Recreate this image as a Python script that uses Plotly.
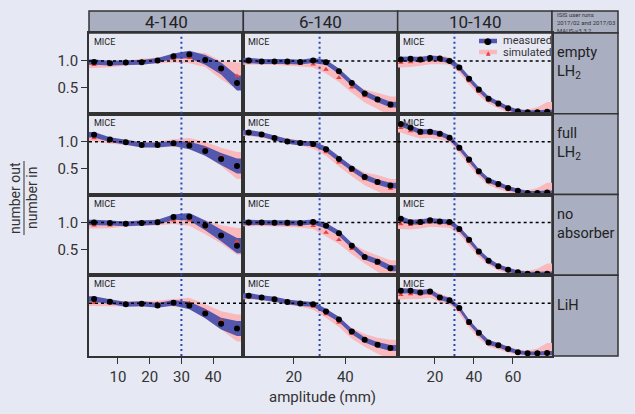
import plotly.graph_objects as go
from plotly.subplots import make_subplots

# ---------------- data ----------------
col_labels = ["4-140", "6-140", "10-140"]
row_labels = ["empty<br>LH<sub>2</sub>", "full<br>LH<sub>2</sub>", "no<br>absorber", "LiH"]

amp_4 = [2.5, 7.5, 12.5, 17.5, 22.5, 27.5, 32.5, 37.5, 42.5, 47.5]
amp_6 = [2.5, 7.5, 12.5, 17.5, 22.5, 27.5, 32.5, 37.5, 42.5, 47.5, 52.5, 57.5]
amp_10 = [2.5, 7.5, 12.5, 17.5, 22.5, 27.5, 32.5, 37.5, 42.5, 47.5, 52.5, 57.5, 62.5, 67.5, 72.5, 77.5]

# 4-140
meas_4_empty = [0.98, 0.96, 0.97, 0.975, 1.01, 1.09, 1.12, 1.02, 0.86, 0.59]
sim_4_empty = [0.93, 0.94, 0.96, 0.99, 1.01, 1.04, 1.06, 1.02, 0.83, 0.72]
meas_4_full = [1.13, 1.04, 0.99, 0.94, 0.94, 0.97, 0.93, 0.83, 0.68, 0.55]
sim_4_full = [1.07, 1.02, 0.99, 0.95, 0.95, 0.975, 0.97, 0.87, 0.72, 0.56]
meas_4_none = [1.0, 0.99, 0.975, 0.99, 1.005, 1.10, 1.105, 0.945, 0.76, 0.57]
sim_4_none = [0.95, 0.95, 0.975, 0.99, 1.0, 1.04, 1.04, 0.91, 0.78, 0.65]
meas_4_lih = [1.08, 1.03, 0.98, 0.99, 0.96, 1.01, 0.96, 0.81, 0.62, 0.53]
sim_4_lih = [1.01, 1.0, 0.99, 0.99, 0.99, 1.01, 1.0, 0.85, 0.68, 0.54]
meas_err_4 = [0.05, 0.045, 0.045, 0.045, 0.045, 0.05, 0.07, 0.09, 0.11, 0.14]
sim_err_4 = [0.06, 0.055, 0.05, 0.05, 0.055, 0.07, 0.10, 0.13, 0.17, 0.25]

# 6-140
meas_6_empty = [1.01, 0.99, 0.99, 0.99, 0.98, 1.01, 0.975, 0.81, 0.59, 0.395, 0.285, 0.19]
sim_6_empty = [0.975, 0.975, 0.97, 0.96, 0.95, 0.94, 0.84, 0.69, 0.51, 0.35, 0.26, 0.16]
meas_6_full = [1.17, 1.136, 1.07, 1.006, 0.975, 0.96, 0.86, 0.68, 0.50, 0.345, 0.25, 0.185]
sim_6_full = [1.15, 1.12, 1.07, 1.01, 0.98, 0.93, 0.81, 0.62, 0.46, 0.31, 0.23, 0.13]
meas_6_none = [1.0, 1.0, 0.995, 0.995, 0.99, 1.01, 0.94, 0.80, 0.57, 0.36, 0.27, 0.15]
sim_6_none = [0.975, 0.975, 0.97, 0.965, 0.955, 0.94, 0.815, 0.68, 0.51, 0.36, 0.235, 0.12]
meas_6_lih = [1.14, 1.105, 1.074, 1.025, 0.995, 0.98, 0.846, 0.70, 0.475, 0.32, 0.23, 0.17]
sim_6_lih = [1.12, 1.10, 1.07, 1.02, 0.99, 0.94, 0.80, 0.64, 0.44, 0.31, 0.21, 0.14]
meas_err_6 = [0.05, 0.045, 0.045, 0.045, 0.045, 0.045, 0.05, 0.05, 0.05, 0.05, 0.05, 0.055]
sim_err_6 = [0.045, 0.045, 0.045, 0.05, 0.05, 0.06, 0.07, 0.08, 0.10, 0.12, 0.15, 0.18]

# 10-140
meas_10_empty = [1.03, 1.04, 1.03, 1.055, 1.045, 1.0, 0.88, 0.67, 0.47, 0.30, 0.21, 0.12, 0.065, 0.05, 0.05, 0.055]
sim_10_empty = [0.97, 0.98, 1.0, 1.02, 1.02, 1.0, 0.85, 0.63, 0.43, 0.27, 0.18, 0.10, 0.06, 0.05, 0.05, 0.06]
meas_10_full = [1.33, 1.26, 1.185, 1.185, 1.15, 1.075, 0.89, 0.67, 0.45, 0.28, 0.215, 0.14, 0.09, 0.05, 0.05, 0.055]
sim_10_full = [1.26, 1.20, 1.15, 1.15, 1.12, 1.06, 0.86, 0.63, 0.42, 0.25, 0.18, 0.12, 0.08, 0.05, 0.05, 0.06]
meas_10_none = [1.07, 1.005, 1.01, 1.04, 1.02, 1.01, 0.88, 0.68, 0.46, 0.29, 0.185, 0.12, 0.075, 0.05, 0.05, 0.05]
sim_10_none = [0.97, 0.96, 0.98, 1.0, 0.99, 0.97, 0.85, 0.64, 0.43, 0.27, 0.17, 0.11, 0.07, 0.05, 0.05, 0.06]
meas_10_lih = [1.23, 1.23, 1.20, 1.22, 1.105, 1.055, 0.91, 0.65, 0.45, 0.27, 0.22, 0.15, 0.09, 0.07, 0.07, 0.075]
sim_10_lih = [1.16, 1.17, 1.17, 1.18, 1.10, 1.04, 0.88, 0.62, 0.42, 0.25, 0.20, 0.14, 0.09, 0.07, 0.07, 0.08]
meas_err_10 = [0.05, 0.045, 0.045, 0.045, 0.045, 0.045, 0.045, 0.045, 0.045, 0.045, 0.04, 0.04, 0.035, 0.035, 0.035, 0.04]
sim_err_10 = [0.09, 0.09, 0.09, 0.08, 0.08, 0.07, 0.07, 0.07, 0.07, 0.06, 0.06, 0.06, 0.05, 0.05, 0.09, 0.18]

x_ranges = [[0.9, 49.5], [0.4, 60.3], [0.9, 80.0]]
x_edges = [[0, 50], [0, 60], [0, 80]]
x_ticks = [[10, 20, 30, 40], [20, 40], [20, 40, 60]]
y_range = [0.02, 1.52]
y_ticks = [0.5, 1.0]
y_ticktext = ["0.5", "1.0"]
ref_amp = 30
corner_text = "ISIS user runs<br>2017/02 and 2017/03<br>MAUS-v3.3.2"

amps = [amp_4, amp_6, amp_10]
meas = [
    [meas_4_empty, meas_6_empty, meas_10_empty],
    [meas_4_full, meas_6_full, meas_10_full],
    [meas_4_none, meas_6_none, meas_10_none],
    [meas_4_lih, meas_6_lih, meas_10_lih],
]
sims = [
    [sim_4_empty, sim_6_empty, sim_10_empty],
    [sim_4_full, sim_6_full, sim_10_full],
    [sim_4_none, sim_6_none, sim_10_none],
    [sim_4_lih, sim_6_lih, sim_10_lih],
]
meas_errs = [meas_err_4, meas_err_6, meas_err_10]
sim_errs = [sim_err_4, sim_err_6, sim_err_10]

# ---------------- style ----------------
BG = "#e6e8f4"
GRAY = "#a9aec1"
FRAME = "#333333"
BLUE = "#5357ad"
PINK = "#f9b9bd"
RED = "#e5403f"
FONT = "Roboto"

W, H = 635, 414
L, R, T, B = 89, 83, 33, 58
PW = W - L - R
PH = H - T - B


def px_x(p):
    return (p - L) / PW


def px_y(p):
    return (H - B - p) / PH


fig = make_subplots(rows=4, cols=3, horizontal_spacing=0, vertical_spacing=0)


def band(xs, vals, errs, edges):
    bx = [edges[0]] + list(xs) + [edges[1]]
    up = [vals[0] + errs[0]] + [v + e for v, e in zip(vals, errs)] + [vals[-1] + errs[-1]]
    lo = [vals[0] - errs[0]] + [v - e for v, e in zip(vals, errs)] + [vals[-1] - errs[-1]]
    return bx + bx[::-1], up + lo[::-1]


for r in range(4):
    for c in range(3):
        xs = amps[c]
        sx, sy = band(xs, sims[r][c], sim_errs[c], x_edges[c])
        fig.add_trace(go.Scatter(x=sx, y=sy, fill="toself", fillcolor=PINK, mode="none",
                                 hoverinfo="skip", showlegend=False), row=r + 1, col=c + 1)
        mx, my = band(xs, meas[r][c], meas_errs[c], x_edges[c])
        fig.add_trace(go.Scatter(x=mx, y=my, fill="toself", fillcolor=BLUE, mode="none",
                                 hoverinfo="skip", showlegend=False), row=r + 1, col=c + 1)
        fig.add_trace(go.Scatter(x=xs, y=sims[r][c], mode="markers",
                                 marker=dict(symbol="triangle-up", size=5, color=RED),
                                 showlegend=False), row=r + 1, col=c + 1)
        fig.add_trace(go.Scatter(x=xs, y=meas[r][c], mode="markers",
                                 marker=dict(symbol="circle", size=6, color="black"),
                                 showlegend=False), row=r + 1, col=c + 1)

        idx = r * 3 + c + 1
        sfx = "" if idx == 1 else str(idx)
        xref = "x" + sfx
        yref = "y" + sfx
        fig.add_shape(type="line", xref=xref + " domain", yref=yref, x0=0, x1=1, y0=1.0, y1=1.0,
                      line=dict(color="black", width=1.6, dash="3px,3px"), layer="above")
        fig.add_shape(type="line", xref=xref, yref=yref + " domain", x0=ref_amp, x1=ref_amp, y0=0, y1=1,
                      line=dict(color="#2a46b0", width=2, dash="2px,3px"), layer="above")
        fig.add_annotation(xref=xref + " domain", yref=yref + " domain", x=0.02, y=0.975,
                           text="MICE", showarrow=False, xanchor="left", yanchor="top",
                           font=dict(family=FONT, size=9, color="#222222"))

        fig.update_xaxes(row=r + 1, col=c + 1, range=x_ranges[c], showgrid=False, zeroline=False,
                         showline=True, mirror=True, linecolor=FRAME, linewidth=1.5,
                         showticklabels=(r == 3),
                         tickvals=x_ticks[c],
                         ticks="outside" if r == 3 else "", ticklen=6, tickcolor=FRAME,
                         tickfont=dict(family=FONT, size=15, color="#333333"))
        show_y = (c == 0 and r < 3)
        fig.update_yaxes(row=r + 1, col=c + 1, range=y_range, showgrid=False, zeroline=False,
                         showline=True, mirror=True, linecolor=FRAME, linewidth=1.5,
                         showticklabels=show_y,
                         tickvals=y_ticks, ticktext=y_ticktext,
                         ticks="outside" if show_y else "", ticklen=6, tickcolor=FRAME,
                         tickfont=dict(family=FONT, size=15, color="#333333"))

# header cells
hdr_top = px_y(11)
hdr_mid = (1 + hdr_top) / 2
for c in range(3):
    dom = fig.layout["xaxis" + ("" if c == 0 else str(c + 1))].domain
    fig.add_shape(type="rect", xref="paper", yref="paper", x0=dom[0], x1=dom[1], y0=1, y1=hdr_top,
                  fillcolor=GRAY, line=dict(color=FRAME, width=1.5), layer="below")
    fig.add_annotation(xref="paper", yref="paper", x=(dom[0] + dom[1]) / 2, y=hdr_mid,
                       text=col_labels[c], showarrow=False, xanchor="center", yanchor="middle",
                       font=dict(family=FONT, size=17, color="#222222"))

right_x1 = px_x(618)
fig.add_shape(type="rect", xref="paper", yref="paper", x0=1, x1=right_x1, y0=1, y1=hdr_top,
              fillcolor=GRAY, line=dict(color=FRAME, width=1.5), layer="below")
fig.add_annotation(xref="paper", yref="paper", x=px_x(555), y=hdr_mid,
                   text=corner_text, showarrow=False, xanchor="left", yanchor="middle", align="left",
                   font=dict(family=FONT, size=6, color="#333333"))

for r in range(4):
    dom = fig.layout["yaxis" + ("" if r == 0 else str(r * 3 + 1))].domain
    fig.add_shape(type="rect", xref="paper", yref="paper", x0=1, x1=right_x1, y0=dom[0], y1=dom[1],
                  fillcolor=GRAY, line=dict(color=FRAME, width=1.5), layer="below")
    fig.add_annotation(xref="paper", yref="paper", x=px_x(555),
                       y=dom[0] + 0.63 * (dom[1] - dom[0]),
                       text=row_labels[r], showarrow=False, xanchor="left", yanchor="middle",
                       align="left", font=dict(family=FONT, size=14.5, color="#222222"))

# legend (top right panel of first row)
leg = [("measured", BLUE, "●", "black", 9, 41), ("simulated", PINK, "▲", RED, 6, 52)]
for name, lc, sym, sc, ss, yy in leg:
    fig.add_shape(type="line", xref="paper", yref="paper", x0=px_x(479), x1=px_x(497),
                  y0=px_y(yy), y1=px_y(yy), line=dict(color=lc, width=4.5))
    fig.add_annotation(xref="paper", yref="paper", x=px_x(488), y=px_y(yy), text=sym,
                       showarrow=False, xanchor="center", yanchor="middle",
                       font=dict(family="DejaVu Sans", size=ss, color=sc))
    fig.add_annotation(xref="paper", yref="paper", x=px_x(501), y=px_y(yy), text=name,
                       showarrow=False, xanchor="left", yanchor="middle",
                       font=dict(family=FONT, size=11, color="#333333"))

# axis titles
fig.add_annotation(xref="paper", yref="paper", x=px_x(322), y=px_y(397), text="amplitude (mm)",
                   showarrow=False, xanchor="center", yanchor="middle",
                   font=dict(family=FONT, size=15, color="#333333"))
fig.add_annotation(xref="paper", yref="paper", x=px_x(15), y=px_y(198), text="number out",
                   textangle=-90, showarrow=False, xanchor="center", yanchor="middle",
                   font=dict(family=FONT, size=14, color="#333333"))
fig.add_annotation(xref="paper", yref="paper", x=px_x(32), y=px_y(198), text="number in",
                   textangle=-90, showarrow=False, xanchor="center", yanchor="middle",
                   font=dict(family=FONT, size=14, color="#333333"))
fig.add_shape(type="line", xref="paper", yref="paper", x0=px_x(24), x1=px_x(24),
              y0=px_y(161), y1=px_y(235), line=dict(color="#333333", width=1))

fig.update_layout(width=W, height=H, margin=dict(l=L, r=R, t=T, b=B),
                  paper_bgcolor=BG, plot_bgcolor=BG, showlegend=False,
                  font=dict(family=FONT))

fig.write_html("out.html", config={"displayModeBar": False},
               post_script="document.body.style.margin='0px';document.body.style.background='" + BG + "';")
